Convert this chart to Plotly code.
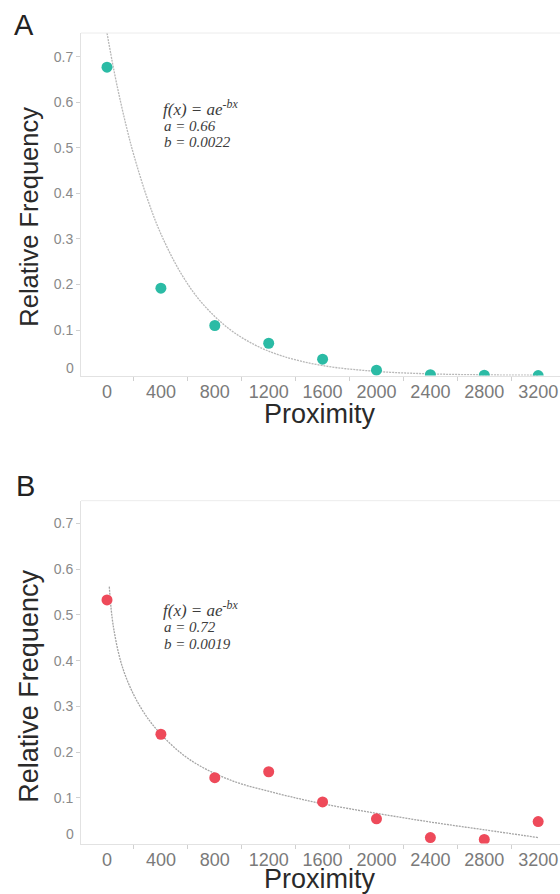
import plotly.graph_objects as go

# ---------------- data ----------------
proximity = [0, 400, 800, 1200, 1600, 2000, 2400, 2800, 3200]
freq_A = [0.677, 0.192, 0.110, 0.071, 0.036, 0.012, 0.002, 0.001, 0.000]
freq_B = [0.533, 0.239, 0.144, 0.157, 0.091, 0.054, 0.013, 0.009, 0.048]

# fitted curves
curve_A_x = [0, 50, 100, 150, 200, 300, 400, 550, 700, 900, 1100, 1300, 1600, 2000, 2400, 2800, 3200]
curve_A_y = [0.752, 0.672, 0.602, 0.539, 0.483, 0.388, 0.311, 0.224, 0.161, 0.104, 0.067, 0.043,
             0.022, 0.0092, 0.0038, 0.0016, 0.0007]
curve_B_x = [17, 47, 121, 245, 394, 617, 914, 1285, 1600, 2000, 2400, 2800, 3200]
curve_B_y = [0.562, 0.475, 0.380, 0.300, 0.241, 0.183, 0.139, 0.108, 0.087, 0.066, 0.047, 0.030, 0.013]

fit_A = {"a": "0.66", "b": "0.0022"}
fit_B = {"a": "0.72", "b": "0.0019"}

x_ticks = [0, 400, 800, 1200, 1600, 2000, 2400, 2800, 3200]
y_ticks = [0.1, 0.2, 0.3, 0.4, 0.5, 0.6, 0.7]

TEAL = "#2bbba5"
RED = "#ee4a5a"
W, H = 560, 894

def py(px):
    return 1 - px / H

fig = go.Figure()

fig.add_trace(go.Scatter(x=curve_A_x, y=curve_A_y, mode="lines", line_shape="spline",
                         line=dict(color="#b8b8b8", width=1.3, dash="2px,1px"),
                         xaxis="x", yaxis="y", showlegend=False, hoverinfo="skip"))
fig.add_trace(go.Scatter(x=proximity, y=freq_A, mode="markers",
                         marker=dict(color=TEAL, size=11, line=dict(width=0)),
                         xaxis="x", yaxis="y", showlegend=False))
fig.add_trace(go.Scatter(x=curve_B_x, y=curve_B_y, mode="lines", line_shape="spline",
                         line=dict(color="#a5a5a5", width=1.3, dash="2px,1px"),
                         xaxis="x2", yaxis="y2", showlegend=False, hoverinfo="skip"))
fig.add_trace(go.Scatter(x=proximity, y=freq_B, mode="markers",
                         marker=dict(color=RED, size=11, line=dict(width=0)),
                         xaxis="x2", yaxis="y2", showlegend=False))

xdom = [81 / W, 1.0]
xrange_ = [-193, 3362]

def xaxis(anchor):
    return dict(domain=xdom, range=xrange_, anchor=anchor,
                tickmode="array", tickvals=x_ticks, ticktext=[str(v) for v in x_ticks],
                ticks="", showgrid=False, zeroline=False,
                showline=True, linecolor="#e2e2e2", linewidth=1, mirror=False,
                tickfont=dict(family="Liberation Sans, Arial", size=18, color="#7a7a7a"),
                minor=dict(tick0=-200, dtick=400, ticks="outside", ticklen=4,
                           tickcolor="#d0d0d0", tickwidth=1, showgrid=False))

def yaxis(anchor, dom, top):
    return dict(domain=dom, range=[0, top], anchor=anchor,
                tickmode="array", tickvals=y_ticks, ticktext=[f"{v:.1f}" for v in y_ticks],
                ticks="outside", ticklen=4, tickcolor="#d0d0d0", tickwidth=1,
                showgrid=False, zeroline=False,
                showline=True, linecolor="#e2e2e2", linewidth=1,
                tickfont=dict(family="Liberation Sans, Arial", size=14, color="#8a8a8a"))

fig.update_layout(
    width=W, height=H,
    margin=dict(l=0, r=0, t=0, b=0),
    paper_bgcolor="white", plot_bgcolor="white",
    xaxis=xaxis("y"),
    yaxis=yaxis("x", [py(375.6), py(33)], 0.752),
    xaxis2=xaxis("y2"),
    yaxis2=yaxis("x2", [py(843.5), py(500.7)], 0.750),
    shapes=[
        dict(type="line", xref="paper", yref="paper", x0=81 / W, x1=1, y0=py(33), y1=py(33),
             line=dict(color="#ececec", width=1)),
        dict(type="line", xref="paper", yref="paper", x0=81 / W, x1=1, y0=py(500.7), y1=py(500.7),
             line=dict(color="#ececec", width=1)),
    ],
)

def A(text, xpx, ypx, font, xanchor="center", angle=0):
    return dict(text=text, x=xpx / W, y=py(ypx), xref="paper", yref="paper", showarrow=False,
                xanchor=xanchor, yanchor="middle", textangle=angle, font=font)

ann = []
SANS = "Liberation Sans, Arial"
LETTER_FONT = dict(family=SANS, size=29, color="#222")
TICK0_FONT = dict(family=SANS, size=14, color="#8a8a8a")
SERIF = "Liberation Serif, Times New Roman"

ann.append(A("A", 24, 25, LETTER_FONT))
ann.append(A("B", 25, 486, LETTER_FONT))
for yc, xc, ysz in [(216.7, 414, 25.5), (686.7, 879, 27)]:
    ann.append(A("Relative Frequency", 29, yc, dict(family=SANS, size=ysz, color="#2a2a2a"), angle=-90))
    ann.append(A("Proximity", 320, xc, dict(family=SANS, size=27, color="#2a2a2a")))
for yc in [368, 834]:
    ann.append(A("0", 76, yc, TICK0_FONT, xanchor="right"))
for fit, y0 in [(fit_A, 108), (fit_B, 609)]:
    ann.append(A("<i>f(x) = ae<sup>-bx</sup></i>", 161, y0, dict(family=SERIF, size=17, color="#3c3c3c"), xanchor="left"))
    ann.append(A(f"<i>a = {fit['a']}</i>", 162, y0 + 17.5, dict(family=SERIF, size=15, color="#3c3c3c"), xanchor="left"))
    ann.append(A(f"<i>b = {fit['b']}</i>", 162, y0 + 34.5, dict(family=SERIF, size=15, color="#3c3c3c"), xanchor="left"))

fig.update_layout(annotations=ann)
fig.write_html("out.html", config={"displayModeBar": False},
               post_script="document.body.style.margin='0px';document.body.style.overflow='hidden';")
